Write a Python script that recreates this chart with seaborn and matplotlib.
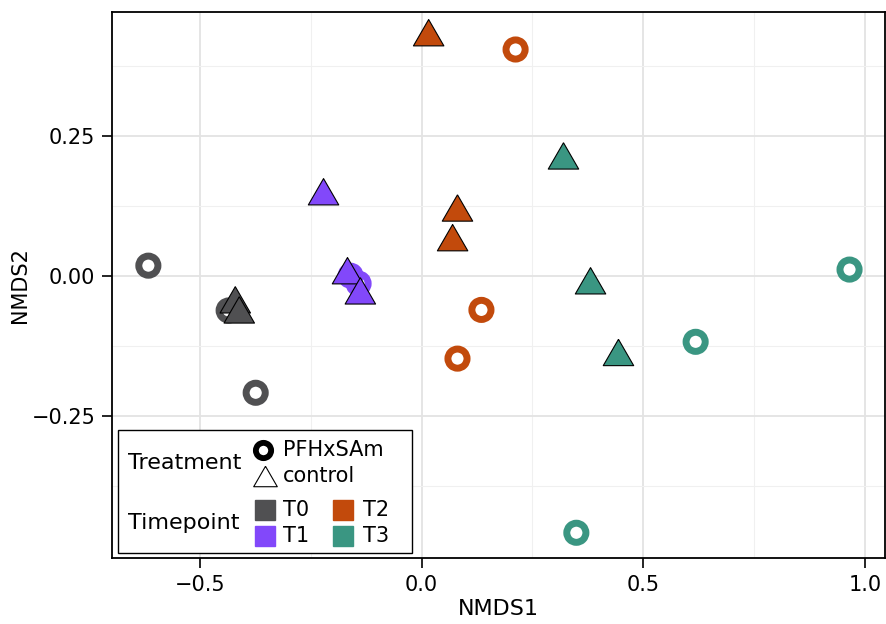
import pandas as pd
import matplotlib
matplotlib.use("Agg")
import matplotlib.pyplot as plt
from matplotlib.patches import Rectangle
from matplotlib.ticker import MultipleLocator, FixedLocator
import seaborn as sns

# NMDS scores
ring_tp = ["T0", "T0", "T0", "T1", "T1", "T2", "T2", "T2", "T3", "T3", "T3"]
ring_x = [-0.616, -0.435, -0.374, -0.142, -0.160, 0.212, 0.135, 0.081, 0.965, 0.618, 0.349]
ring_y = [0.018, -0.062, -0.209, -0.014, 0.000, 0.404, -0.061, -0.148, 0.011, -0.118, -0.459]

ctrl_tp = ["T0", "T0", "T1", "T1", "T1", "T2", "T2", "T2", "T3", "T3", "T3"]
ctrl_x = [-0.420, -0.411, -0.221, -0.167, -0.138, 0.016, 0.081, 0.070, 0.320, 0.381, 0.444]
ctrl_y = [-0.043, -0.061, 0.150, 0.009, -0.027, 0.434, 0.121, 0.068, 0.214, -0.009, -0.137]

timepoints = ["T0", "T1", "T2", "T3"]
colors = ["#505052", "#8248FA", "#C24A0C", "#3A9682"]
pal = dict(zip(timepoints, colors))

rings = pd.DataFrame({"NMDS1": ring_x, "NMDS2": ring_y, "Timepoint": ring_tp})
ctrl = pd.DataFrame({"NMDS1": ctrl_x, "NMDS2": ctrl_y, "Timepoint": ctrl_tp})

sns.set_style("whitegrid")
plt.rcParams["font.family"] = ["DejaVu Sans"]
plt.rcParams["text.color"] = "black"
plt.rcParams["axes.labelcolor"] = "black"

fig, ax = plt.subplots(figsize=(8.86, 6.24), dpi=100)
fig.subplots_adjust(left=0.1264, right=0.9989, top=0.9808, bottom=0.1058)

# closed triangle centred on its bounding box
tri = [(0, 0.866), (-1, -0.866), (1, -0.866), (0, 0.866)]

# PFHxSAm: open rings
sns.scatterplot(data=rings, x="NMDS1", y="NMDS2", hue="Timepoint", palette=pal,
                marker="o", s=190, linewidth=5, legend=False, ax=ax, zorder=3)
coll = ax.collections[-1]
coll.set_edgecolors(coll.get_facecolors())
coll.set_facecolor("white")

# control: filled triangles
sns.scatterplot(data=ctrl, x="NMDS1", y="NMDS2", hue="Timepoint", palette=pal,
                marker=tri, s=480, edgecolor="black", linewidth=0.8,
                legend=False, ax=ax, zorder=4)

ax.set_xlim(-0.698, 1.045)
ax.set_ylim(-0.504, 0.471)
ax.xaxis.set_major_locator(MultipleLocator(0.5))
ax.xaxis.set_minor_locator(MultipleLocator(0.25))
ax.yaxis.set_major_locator(FixedLocator([-0.25, 0.0, 0.25]))
ax.yaxis.set_minor_locator(FixedLocator([-0.375, -0.125, 0.125, 0.375]))
ax.set_yticklabels(["\u22120.25", "0.00", "0.25"])
ax.grid(which="major", color="#E3E3E3", linewidth=1.3)
ax.grid(which="minor", color="#F0F0F0", linewidth=0.8)
ax.set_axisbelow(True)
for sp in ax.spines.values():
    sp.set_color("black")
    sp.set_linewidth(1.3)
ax.tick_params(axis="both", which="major", length=7, width=1.2, color="black",
               labelsize=15, labelcolor="black", bottom=True, left=True, pad=5)
ax.tick_params(which="minor", length=0)
ax.set_xlabel("NMDS1", fontsize=16, labelpad=3)
ax.set_ylabel("NMDS2", fontsize=15, labelpad=1)

# combined legend box (Treatment / Timepoint)
T = ax.transAxes
ax.add_patch(Rectangle((0.0078, 0.009), 0.380, 0.225, transform=T,
                       facecolor="white", edgecolor="black", linewidth=1, zorder=5))
ax.text(0.0207, 0.174, "Treatment", transform=T, fontsize=16, va="center", zorder=6)
ax.text(0.0207, 0.064, "Timepoint", transform=T, fontsize=16, va="center", zorder=6)

ax.plot([0.1953], [0.1978], transform=T, marker="o", markersize=11, linestyle="",
        markerfacecolor="white", markeredgecolor="black", markeredgewidth=4.2,
        clip_on=False, zorder=7)
ax.plot([0.1973], [0.1493], transform=T, marker=tri, markersize=17, linestyle="",
        markerfacecolor="white", markeredgecolor="black", markeredgewidth=0.8,
        clip_on=False, zorder=7)
ax.text(0.2212, 0.1978, "PFHxSAm", transform=T, fontsize=15, va="center", zorder=7)
ax.text(0.2212, 0.1493, "control", transform=T, fontsize=15, va="center", zorder=7)

sq_x = [0.1973, 0.1973, 0.2982, 0.2982]
sq_y = [0.0870, 0.0394, 0.0870, 0.0394]
lab_x = [0.2212, 0.2212, 0.3247, 0.3247]
for tp, c, x, y, lx in zip(timepoints, colors, sq_x, sq_y, lab_x):
    ax.plot([x], [y], transform=T, marker="s", markersize=15, linestyle="",
            markerfacecolor=c, markeredgecolor=c, clip_on=False, zorder=7)
    ax.text(lx, y, tp, transform=T, fontsize=15, va="center", zorder=7)

fig.savefig("out.png", dpi=100)
